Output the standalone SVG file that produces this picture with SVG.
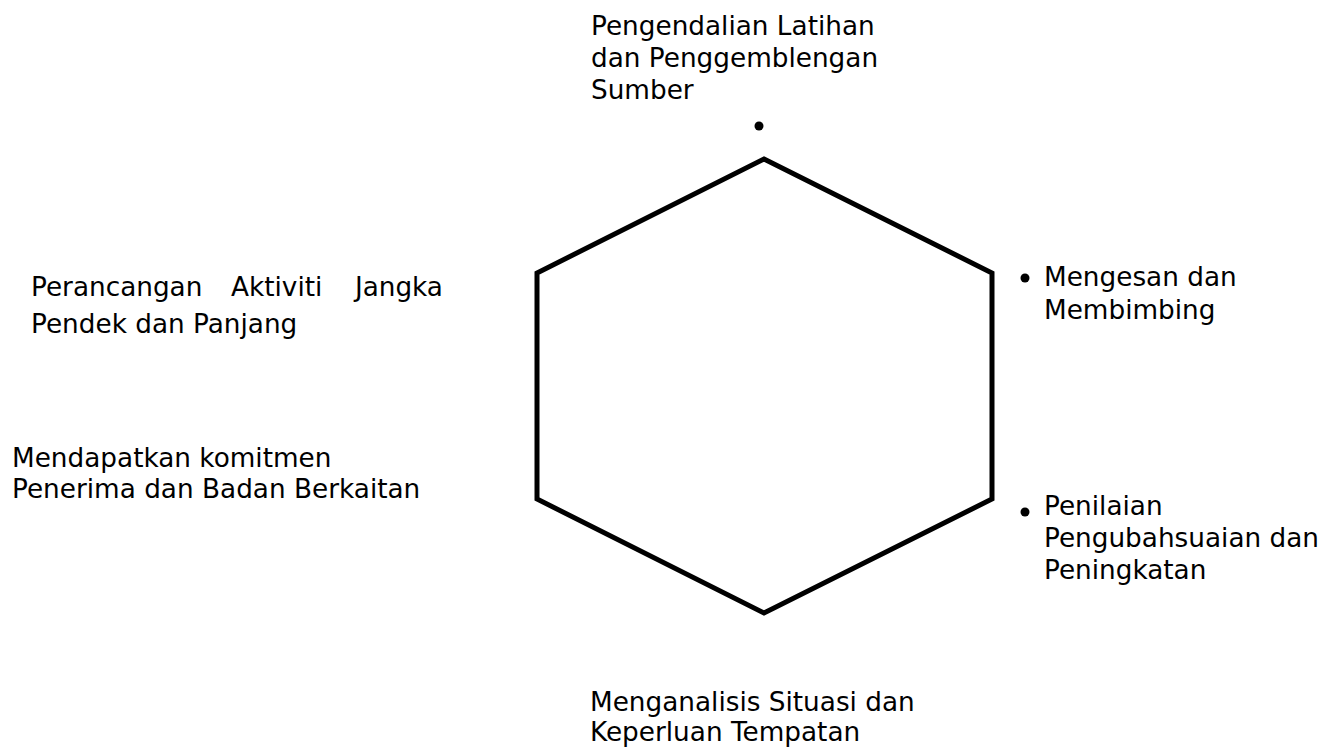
<svg xmlns="http://www.w3.org/2000/svg" width="1327" height="751" viewBox="0 0 1327 751">
<style>
text{font-family:"DejaVu Sans","Verdana",sans-serif;font-size:26.3px;fill:#000}
.hex{fill:none;stroke:#000;stroke-width:5;stroke-linejoin:miter}
.dot{fill:#000}
</style>
<rect width="1327" height="751" fill="#fff"/>
<g id="hexagon">
<polygon class="hex" points="764,159 992,273 992,499 764,613 537,499 537,273"/>
</g>
<g id="connectors"></g>
<g id="node-top">
<text x="591" y="35">Pengendalian Latihan</text>
<text x="591" y="67">dan Penggemblengan</text>
<text x="591" y="99">Sumber</text>
<circle class="dot" cx="759" cy="126" r="4.5"/>
</g>
<g id="node-left-top">
<text x="31" y="296">Perancangan</text>
<text x="231" y="296">Aktiviti</text>
<text x="443" y="296" text-anchor="end">Jangka</text>
<text x="31" y="333">Pendek dan Panjang</text>
</g>
<g id="node-left-bottom">
<text x="12" y="467">Mendapatkan komitmen</text>
<text x="12" y="498">Penerima dan Badan Berkaitan</text>
</g>
<g id="node-right-top">
<circle class="dot" cx="1025" cy="278" r="4.5"/>
<text x="1044" y="286">Mengesan dan</text>
<text x="1044" y="319">Membimbing</text>
</g>
<g id="node-right-bottom">
<circle class="dot" cx="1025" cy="512" r="4.5"/>
<text x="1044" y="515">Penilaian</text>
<text x="1044" y="547">Pengubahsuaian dan</text>
<text x="1044" y="579">Peningkatan</text>
</g>
<g id="node-bottom">
<text x="590" y="711">Menganalisis Situasi dan</text>
<text x="590" y="741">Keperluan Tempatan</text>
</g>
</svg>
